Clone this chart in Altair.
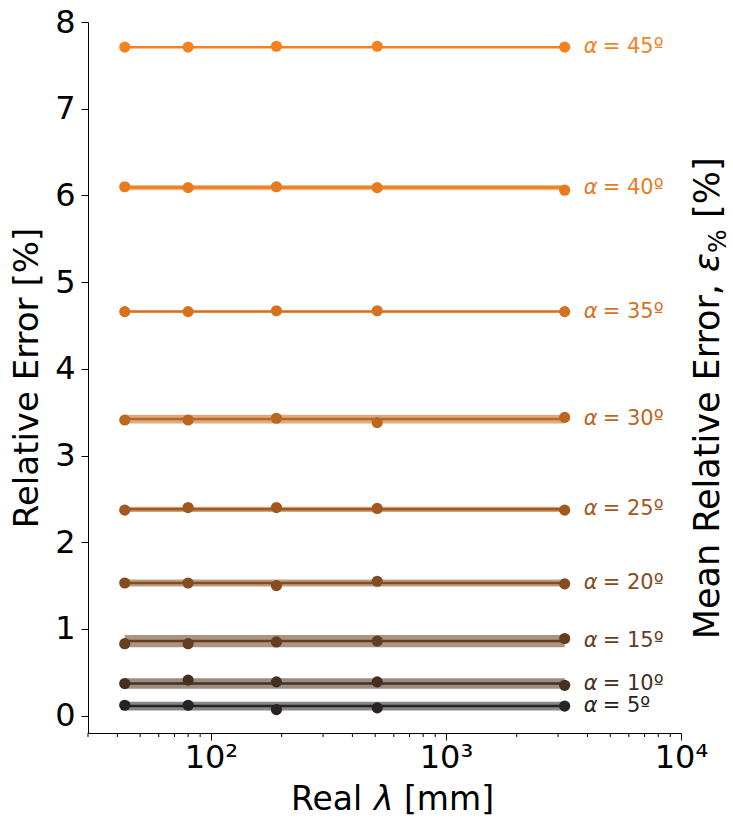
import altair as alt
import pandas as pd

FONT = "DejaVu Sans"

# ---- data ----
lambdas = [43, 80, 190, 510, 3200]          # Real lambda [mm]
alphas = [5, 10, 15, 20, 25, 30, 35, 40, 45]  # degrees

err_5 = [0.12, 0.12, 0.07, 0.09, 0.11]
err_10 = [0.37, 0.41, 0.39, 0.39, 0.35]
err_15 = [0.83, 0.83, 0.85, 0.86, 0.89]
err_20 = [1.53, 1.53, 1.50, 1.55, 1.52]
err_25 = [2.37, 2.40, 2.40, 2.39, 2.37]
err_30 = [3.41, 3.41, 3.43, 3.38, 3.44]
err_35 = [4.66, 4.66, 4.67, 4.67, 4.66]
err_40 = [6.10, 6.09, 6.10, 6.09, 6.06]
err_45 = [7.71, 7.71, 7.72, 7.72, 7.71]

mean_err = [0.11, 0.37, 0.86, 1.53, 2.38, 3.42, 4.66, 6.09, 7.71]
spread = [0.05, 0.06, 0.07, 0.04, 0.03, 0.05, 0.01, 0.03, 0.01]

colors = ["#262322", "#45301f", "#653e1f", "#844c1f", "#a2591f",
          "#bd661f", "#d6721f", "#e97b1f", "#f5821f"]

minor_ticks = [30, 40, 50, 60, 70, 80, 90, 200, 300, 400, 500, 600, 700,
               800, 900, 2000, 3000, 4000, 5000, 6000, 7000, 8000, 9000]

right_title_parts = ["Mean Relative Error,", "ε", "%", "[%]"]
x_title_parts = ["Real", "λ", "[mm]"]

# ---- tables ----
all_err = [err_5, err_10, err_15, err_20, err_25, err_30, err_35, err_40, err_45]
pts = pd.DataFrame([
    {"alpha": str(a), "lam": l, "err": e}
    for a, series in zip(alphas, all_err)
    for l, e in zip(lambdas, series)
])
summ = pd.DataFrame({
    "alpha": [str(a) for a in alphas],
    "mean": mean_err,
    "lo": [m - s for m, s in zip(mean_err, spread)],
    "hi": [m + s for m, s in zip(mean_err, spread)],
    "lam0": [lambdas[0]] * len(alphas),
    "lam1": [lambdas[-1]] * len(alphas),
    "eq": ["= %dº" % a for a in alphas],
    "alph": ["α"] * len(alphas),
})
minor_df = pd.DataFrame({"m": minor_ticks})

W, H = 593, 711
xscale = alt.Scale(type="log", domain=[30, 10000])
yscale = alt.Scale(domain=[-0.2, 8])
cscale = alt.Scale(domain=[str(a) for a in alphas], range=colors)
color = alt.Color("alpha:N", scale=cscale, legend=None)

xaxis = alt.Axis(values=[100, 1000, 10000],
                 labelExpr="datum.value == 100 ? '10²' : datum.value == 1000 ? '10³' : '10⁴'",
                 title=None, grid=False, tickSize=7, tickColor="black",
                 domainColor="black", labelFontSize=32,
                 labelColor="black", labelFont=FONT, labelPadding=2,
                 labelFlush=False)
yaxis = alt.Axis(values=list(range(0, 9)), format="d", title="Relative Error [%]",
                 grid=False, tickSize=7, tickColor="black", domainColor="black",
                 labelFontSize=32, titleFontSize=34, labelColor="black",
                 titleColor="black", titleFontWeight="normal", labelFont=FONT,
                 titleFont=FONT, labelPadding=6, titlePadding=10)

band = alt.Chart(summ).mark_rect(opacity=0.55).encode(
    x=alt.X("lam0:Q", scale=xscale, axis=xaxis),
    x2="lam1:Q",
    y=alt.Y("lo:Q", scale=yscale, axis=yaxis),
    y2="hi:Q",
    color=color,
)
line = alt.Chart(summ).mark_rule(strokeWidth=2.5).encode(
    x=alt.X("lam0:Q", scale=xscale),
    x2="lam1:Q",
    y=alt.Y("mean:Q", scale=yscale),
    color=color,
)
dots = alt.Chart(pts).mark_circle(size=125, opacity=1).encode(
    x=alt.X("lam:Q", scale=xscale),
    y=alt.Y("err:Q", scale=yscale),
    color=color,
)
lab_a = alt.Chart(summ).mark_text(align="left", baseline="middle", dx=19,
                                  fontSize=21, font=FONT, fontStyle="italic").encode(
    x=alt.X("lam1:Q", scale=xscale),
    y=alt.Y("mean:Q", scale=yscale),
    text="alph:N",
    color=color,
)
lab_b = alt.Chart(summ).mark_text(align="left", baseline="middle", dx=38,
                                  fontSize=21, font=FONT).encode(
    x=alt.X("lam1:Q", scale=xscale),
    y=alt.Y("mean:Q", scale=yscale),
    text="eq:N",
    color=color,
)
minor = alt.Chart(minor_df).mark_rule(color="black", strokeWidth=1).encode(
    x=alt.X("m:Q", scale=xscale),
    y=alt.value(H),
    y2=alt.value(H + 4),
)

# right-hand title, written in pieces so that "ε" is italic and "%" a subscript
rt_df = pd.DataFrame({"t": right_title_parts})


def piece(i, y, size, align, x=631, style="normal"):
    return alt.Chart(rt_df).transform_filter(alt.datum.t == right_title_parts[i]).mark_text(
        angle=270, fontSize=size, font=FONT, color="black", align=align,
        baseline="alphabetic", fontStyle=style
    ).encode(x=alt.value(x), y=alt.value(y), text="t:N")


rt1 = piece(0, 262, 35, "right")
rt2 = piece(1, 231, 35, "right", style="italic")
rt3 = piece(2, 231, 25, "left", x=638)
rt4 = piece(3, 196, 35, "left")

# x-axis title in pieces so that lambda is italic
xt_df = pd.DataFrame({"t": x_title_parts})


def xpiece(i, x, style="normal"):
    return alt.Chart(xt_df).transform_filter(alt.datum.t == x_title_parts[i]).mark_text(
        fontSize=33, font=FONT, color="black", align="left", baseline="alphabetic",
        fontStyle=style
    ).encode(x=alt.value(x), y=alt.value(H + 77), text="t:N")


xt1 = xpiece(0, 203)
xt2 = xpiece(1, 286, style="italic")
xt3 = xpiece(2, 316)

chart = alt.layer(band, line, dots, lab_a, lab_b, minor,
                  rt1, rt2, rt3, rt4, xt1, xt2, xt3).properties(
    width=W, height=H, background="white",
    padding={"left": 88, "top": 22, "right": 52, "bottom": 87},
    autosize=alt.AutoSizeParams(type="none"),
).configure_view(stroke=None)

chart.save("out.html", embed_options={"renderer": "svg", "actions": False})
